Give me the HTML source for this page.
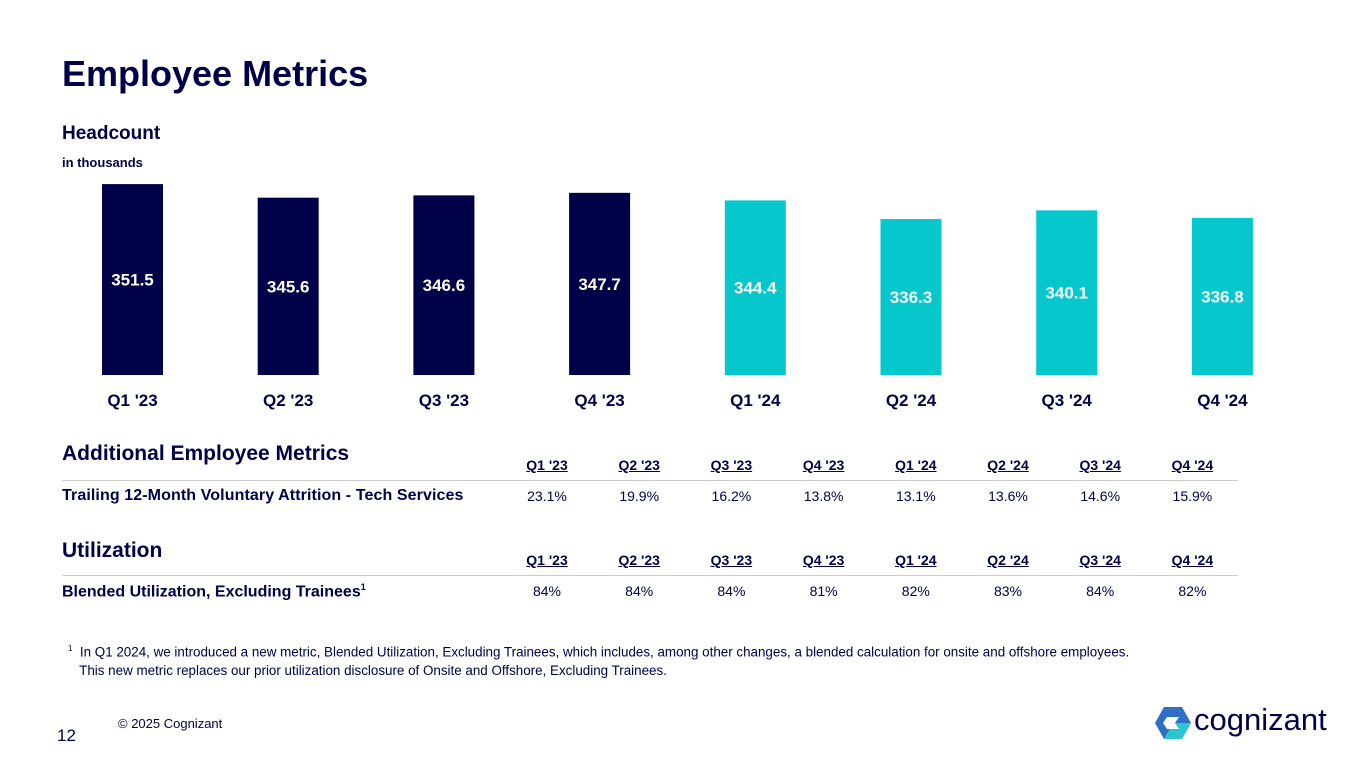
<!DOCTYPE html>
<html><head><meta charset="utf-8"><style>
body{margin:0;width:1365px;height:768px;background:#fff;font-family:"Liberation Sans",sans-serif;color:#000048;position:relative;overflow:hidden}
.a{position:absolute;white-space:nowrap}
.h{text-decoration:underline;font-weight:bold;font-size:14px;transform:translateX(-50%)}
.v{font-size:14px;transform:translateX(-50%)}
</style></head><body>
<div class="a" style="left:62px;top:53px;font-size:36px;font-weight:bold">Employee Metrics</div>
<div class="a" style="left:62px;top:123px;font-size:19px;font-weight:bold">Headcount</div>
<div class="a" style="left:62px;top:155px;font-size:13px;font-weight:bold">in thousands</div>
<svg id="chart" class="a" style="left:0;top:0" width="1365" height="420"></svg>
<div class="a" style="left:62px;top:442px;font-size:21px;font-weight:bold">Additional Employee Metrics</div>
<div class="a" style="left:62px;top:480px;width:1176px;height:1px;background:#ccc"></div>
<div class="a" style="left:62px;top:487px;font-size:16px;font-weight:bold;letter-spacing:0.1px">Trailing 12-Month Voluntary Attrition - Tech Services</div>
<div class="a" style="left:62px;top:539px;font-size:21px;font-weight:bold">Utilization</div>
<div class="a" style="left:62px;top:575px;width:1176px;height:1px;background:#ccc"></div>
<div class="a" style="left:62px;top:582px;font-size:16px;font-weight:bold">Blended Utilization, Excluding Trainees<sup style="font-size:9px">1</sup></div>
<div id="tbl"></div>
<div class="a" style="left:68px;top:639px;font-size:13.4px;line-height:19px"><sup style="font-size:8px">1</sup>&nbsp; In Q1 2024, we introduced a new metric, Blended Utilization, Excluding Trainees, which includes, among other changes, a blended calculation for onsite and offshore employees.<br>&nbsp;&nbsp;&nbsp;This new metric replaces our prior utilization disclosure of Onsite and Offshore, Excluding Trainees.</div>
<div class="a" style="left:118px;top:716px;font-size:13px">© 2025 Cognizant</div>
<div class="a" style="left:57px;top:726px;font-size:17px">12</div>
<svg class="a" style="left:1155px;top:706px" width="36" height="34">
<polygon points="9,1 27,1 36,17 27,33 9,33 0,17" fill="#2f6fc5"/><polygon points="18,17 36,17 27,33 9,33" fill="#2ec5d3"/><polygon points="12,11 24,11 20,17 24,23 12,23 8,17" fill="#fff"/></svg>
<div class="a" style="left:1194px;top:702px;font-size:31px;color:#000048">cognizant</div>
<script>
const quarters=["Q1 '23","Q2 '23","Q3 '23","Q4 '23","Q1 '24","Q2 '24","Q3 '24","Q4 '24"];
const headcount=[351.5,345.6,346.6,347.7,344.4,336.3,340.1,336.8];
const attrition=["23.1%","19.9%","16.2%","13.8%","13.1%","13.6%","14.6%","15.9%"];
const utilization=["84%","84%","84%","81%","82%","83%","84%","82%"];
const svg=document.getElementById('chart');const NS='http://www.w3.org/2000/svg';
const y=v=>375-(v-268.5)*2.3;const xc=i=>132.5+i*155.7;
headcount.forEach((v,i)=>{
const r=document.createElementNS(NS,'rect');


r.setAttribute('x',xc(i)-30.5);r.setAttribute('width',61);r.setAttribute('y',y(v));r.setAttribute('height',375-y(v));
r.setAttribute('fill',i<4?'#000048':'#06C7CC');svg.appendChild(r);
const t=document.createElementNS(NS,'text');


t.setAttribute('x',xc(i));t.setAttribute('y',(y(v)+375)/2+6);t.setAttribute('text-anchor','middle');t.setAttribute('fill','#fff');t.setAttribute('font-size','17');t.setAttribute('font-weight','bold');t.textContent=v.toFixed(1);svg.appendChild(t);
const l=document.createElementNS(NS,'text');


l.setAttribute('x',xc(i));l.setAttribute('y',406);l.setAttribute('text-anchor','middle');l.setAttribute('fill','#000048');l.setAttribute('font-size','17');l.setAttribute('font-weight','bold');l.textContent=quarters[i];svg.appendChild(l);
});
const tbl=document.getElementById('tbl');
const cx=i=>547+i*92.2;
function add(cls,txt,x,top,name){const d=document.createElement('div');d.className='a '+cls;


d.style.left=x+'px';d.style.top=top+'px';d.textContent=txt;tbl.appendChild(d);}
quarters.forEach((q,i)=>{add('h',q,cx(i),457,'attrition-column-header');add('v',attrition[i],cx(i),488,'attrition-value');
add('h',q,cx(i),552,'utilization-column-header');add('v',utilization[i],cx(i),583,'utilization-value');});
</script>
</body></html>
